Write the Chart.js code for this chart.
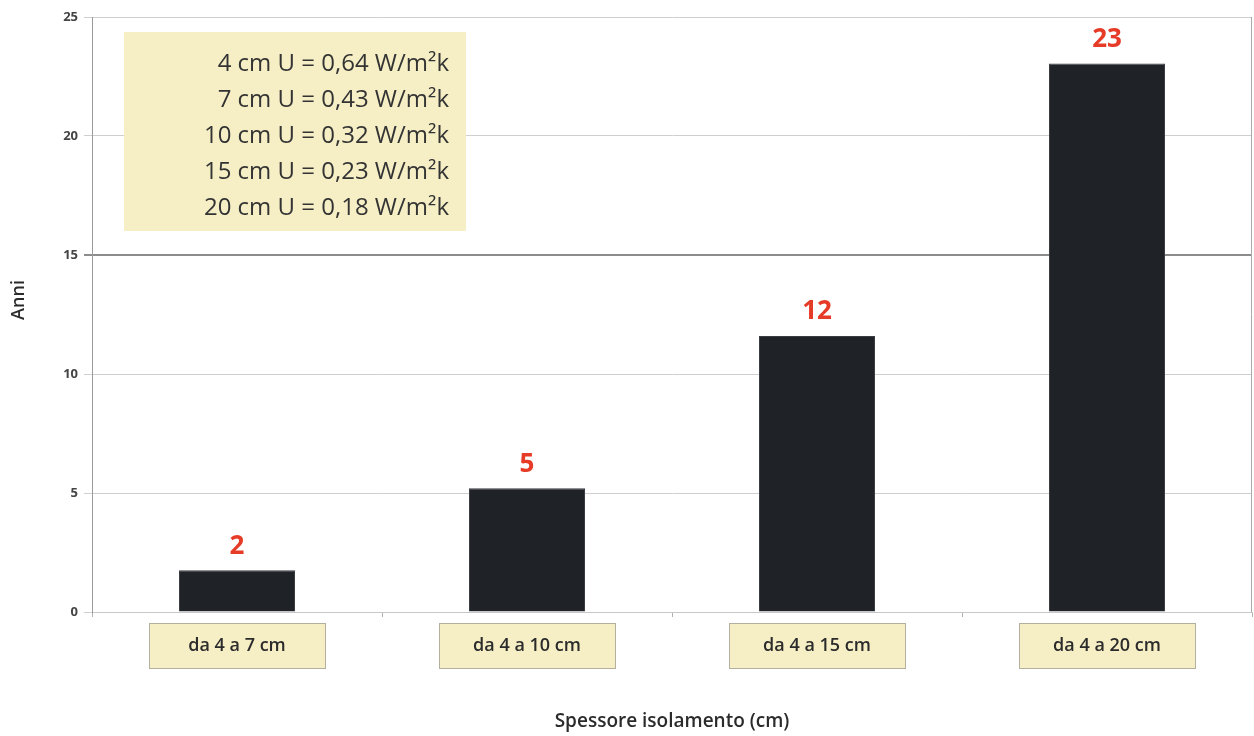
<!DOCTYPE html>
<html>
<head>
<meta charset="utf-8">
<script src="https://cdn.jsdelivr.net/npm/chart.js@4"></script>
<style>
  html, body { margin: 0; padding: 0; background: #fff; }
  #wrap { width: 1254px; height: 736px; }
</style>
</head>
<body>
<div id="wrap"><canvas id="paybackChart" width="1254" height="736"></canvas></div>
<script>
// Payback years by insulation thickness
const categories = ['da 4 a 7 cm', 'da 4 a 10 cm', 'da 4 a 15 cm', 'da 4 a 20 cm'];
const years = [1.75, 5.2, 11.6, 23.05];
const yTicks = [0, 5, 10, 15, 20, 25];
const uValues = [
    '4 cm U = 0,64 W/m²k',
    '7 cm U = 0,43 W/m²k',
    '10 cm U = 0,32 W/m²k',
    '15 cm U = 0,23 W/m²k',
    '20 cm U = 0,18 W/m²k'
];

const FONT = '"Open Sans", "DejaVu Sans", sans-serif';
const BOX_FILL = '#f6efc6';

// yellow boxes behind the category labels, plus the y title
const labelBoxes = {
    id: 'labelBoxes',
    beforeDatasetsDraw(chart) {
        const ctx = chart.ctx;
        const x = chart.scales.x;
        ctx.save();
        categories.forEach((c, i) => {
            const cx = x.getPixelForTick(i);
            ctx.fillStyle = BOX_FILL;
            ctx.fillRect(cx - 88, 623, 176, 45);
            ctx.strokeStyle = '#b3b0a0';
            ctx.lineWidth = 1;
            ctx.strokeRect(cx - 88 + 0.5, 623.5, 176, 45);
            ctx.fillStyle = '#2b2b2b';
            ctx.font = '600 18px ' + FONT;
            ctx.textAlign = 'center';
            ctx.textBaseline = 'middle';
            ctx.fillText(c, cx, 646);
        });
        // right border of the plot
        const area = chart.chartArea;
        ctx.strokeStyle = '#a9a9a9';
        ctx.beginPath();
        ctx.moveTo(area.right - 0.5, area.top);
        ctx.lineTo(area.right - 0.5, area.bottom);
        ctx.stroke();
        // y axis title
        ctx.translate(19, 300);
        ctx.rotate(-Math.PI / 2);
        ctx.fillStyle = '#2b2b2b';
        ctx.font = '600 18px ' + FONT;
        ctx.fillText('Anni', 0, 0);
        ctx.restore();
    },
    afterDatasetsDraw(chart) {
        const ctx = chart.ctx;
        const meta = chart.getDatasetMeta(0);
        ctx.save();
        // rounded value above each bar
        ctx.fillStyle = '#e63b27';
        ctx.font = 'bold 26px ' + FONT;
        ctx.textAlign = 'center';
        ctx.textBaseline = 'middle';
        meta.data.forEach((bar, i) => {
            ctx.fillText(String(Math.round(years[i])), bar.x, bar.y - 24);
        });
        // U-value note box
        ctx.fillStyle = BOX_FILL;
        ctx.fillRect(124, 32, 342, 199);
        ctx.fillStyle = '#333';
        ctx.font = '24px ' + FONT;
        ctx.textAlign = 'right';
        uValues.forEach((t, i) => {
            ctx.fillText(t, 449, 64 + i * 36);
        });
        ctx.restore();
    }
};

new Chart(document.getElementById('paybackChart'), {
    type: 'bar',
    data: {
        labels: categories,
        datasets: [{
            data: years,
            backgroundColor: '#1f2227',
            borderColor: '#3a3d42',
            borderWidth: 1,
            barPercentage: 0.4,
            categoryPercentage: 1
        }]
    },
    options: {
        responsive: false,
        animation: false,
        layout: { padding: { top: 17, right: 2, left: 0, bottom: 0 } },
        plugins: {
            legend: { display: false },
            tooltip: { enabled: false }
        },
        scales: {
            x: {
                afterFit(scale) { scale.height = 124; },
                grid: {
                    offset: true,
                    drawOnChartArea: false,
                    tickLength: 5,
                    color: '#b0b0b0'
                },
                border: { color: '#c8c8c8' },
                ticks: { display: false },
                title: {
                    display: true,
                    text: 'Spessore isolamento (cm)',
                    color: '#2b2b2b',
                    font: { family: FONT, size: 19, weight: '600' },
                    padding: { top: 0, bottom: 3 }
                }
            },
            y: {
                min: 0,
                max: 25,
                afterFit(scale) { scale.width = 92; },
                afterBuildTicks(scale) {
                    scale.ticks = yTicks.map(v => ({ value: v }));
                },
                grid: {
                    tickLength: 8,
                    color: ctx => (ctx.tick && ctx.tick.value === 15) ? '#8c8c8c' : '#cfcfcf',
                    lineWidth: ctx => (ctx.tick && ctx.tick.value === 15) ? 2 : 1
                },
                border: { color: '#9a9a9a' },
                ticks: {
                    color: '#444',
                    padding: 6,
                    font: { family: FONT, size: 13, weight: 'bold' }
                }
            }
        }
    },
    plugins: [labelBoxes]
});
</script>
</body>
</html>
